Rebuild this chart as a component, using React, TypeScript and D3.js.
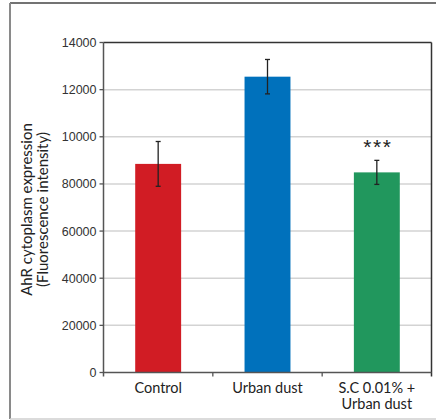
import React from "react";
import * as d3 from "d3";

const categories = ["Control", "Urban dust", "S.C 0.01% +\nUrban dust"];
const values = [8850, 12550, 8490];
const errors = [950, 730, 510];
const colors = ["#d11c24", "#0071bc", "#21975d"];
const tickValues = [0, 2000, 4000, 6000, 8000, 10000, 12000, 14000];
const tickLabels = ["0", "20000", "40000", "60000", "80000", "10000", "12000", "14000"];
const significance = ["", "", "***"];

const W = 436;
const H = 420;
const m = { left: 103.5, right: 431.5, top: 42.5, bottom: 372.5 };

export default function App() {
  const y = d3.scaleLinear().domain([0, 14000]).range([m.bottom, m.top]);
  const x = d3
    .scaleBand<string>()
    .domain(categories)
    .range([m.left, m.right])
    .paddingInner(0.58)
    .paddingOuter(0.29);
  const step = x.step();
  const bounds = categories.map((c) => (x(c) as number) + x.bandwidth() / 2 - step / 2);

  return (
    <svg
      width={W}
      height={H}
      style={{ position: "absolute", left: 0, top: 0 }}
      viewBox={`0 0 ${W} ${H}`}
    >
      <rect x={0} y={0} width={W} height={H} fill="#fff" />
      {/* outer frame */}
      <line x1={10} x2={W} y1={3} y2={3} stroke="#444" strokeWidth={1.5} />
      <line x1={10} x2={10} y1={3} y2={419} stroke="#8a8a8a" strokeWidth={2} />
      <line x1={10} x2={W} y1={419} y2={419} stroke="#cfcfcf" strokeWidth={1.5} />

      {/* grid */}
      {tickValues.slice(1, -1).map((t) => (
        <line key={t} x1={m.left} x2={m.right} y1={y(t)} y2={y(t)} stroke="#d3d3d3" strokeWidth={1.5} />
      ))}

      {/* bars */}
      {categories.map((c, i) => (
        <rect
          key={c}
          x={x(c)}
          y={y(values[i])}
          width={x.bandwidth()}
          height={y(0) - y(values[i])}
          fill={colors[i]}
        />
      ))}

      {/* error bars */}
      {categories.map((c, i) => {
        const cx = (x(c) as number) + x.bandwidth() / 2;
        const t = y(values[i] + errors[i]);
        const b = y(values[i] - errors[i]);
        return (
          <g key={c} stroke="#222" strokeWidth={1.3}>
            <line x1={cx} x2={cx} y1={t} y2={b} />
            <line x1={cx - 2.5} x2={cx + 2.5} y1={t} y2={t} />
            <line x1={cx - 2.5} x2={cx + 2.5} y1={b} y2={b} />
          </g>
        );
      })}

      {/* significance */}
      {categories.map((c, i) =>
        significance[i] ? (
          <text
            key={c}
            x={(x(c) as number) + x.bandwidth() / 2 + 1}
            y={y(values[i] + errors[i]) - 6}
            textAnchor="middle"
            fontFamily="Liberation Sans, Arial, sans-serif"
            fontSize={21}
            letterSpacing={1.5}
            fill="#222"
          >
            {significance[i]}
          </text>
        ) : null
      )}

      {/* plot frame */}
      <line x1={m.left} x2={m.right} y1={m.top} y2={m.top} stroke="#333" strokeWidth={1.5} />
      <line x1={m.right} x2={m.right} y1={m.top} y2={m.bottom + 4} stroke="#333" strokeWidth={1.5} />
      <line x1={m.left} x2={m.left} y1={m.top} y2={m.bottom + 4} stroke="#555" strokeWidth={1.5} />
      <line x1={m.left} x2={m.right} y1={m.bottom} y2={m.bottom} stroke="#555" strokeWidth={1.5} />

      {/* y ticks */}
      {tickValues.map((t, i) => (
        <g key={t}>
          <line x1={m.left - 4} x2={m.left} y1={y(t)} y2={y(t)} stroke="#555" strokeWidth={1.3} />
          <text
            x={m.left - 7}
            y={y(t)}
            dy="0.36em"
            textAnchor="end"
            fontFamily="Liberation Sans, Arial, sans-serif"
            fontSize={12.5}
            fill="#333"
          >
            {tickLabels[i]}
          </text>
        </g>
      ))}

      {/* x ticks */}
      {bounds.slice(1).map((bx, i) => (
        <line key={i} x1={bx} x2={bx} y1={m.bottom} y2={m.bottom + 4} stroke="#555" strokeWidth={1.3} />
      ))}

      {/* x labels */}
      {categories.map((c) =>
        c.split("\n").map((l, j) => (
          <text
            key={c + j}
            x={(x(c) as number) + x.bandwidth() / 2}
            y={392.5 + j * 16}
            textAnchor="middle"
            fontFamily="Lato, sans-serif"
            fontSize={14.5}
            fill="#222"
          >
            {l}
          </text>
        ))
      )}

      {/* y title */}
      <text
        transform={`translate(32, ${(m.top + m.bottom) / 2 + 2}) rotate(-90)`}
        textAnchor="middle"
        fontFamily="Lato, sans-serif"
        fontSize={15}
        fill="#222"
      >
        <tspan x={0} dy={0}>AhR cytoplasm expression</tspan>
        <tspan x={0} dy={15.5}>(Fluorescence intensity)</tspan>
      </text>
    </svg>
  );
}
